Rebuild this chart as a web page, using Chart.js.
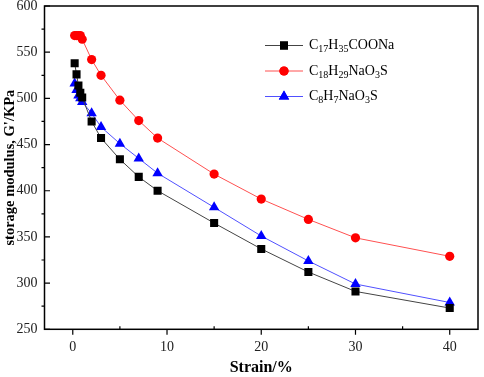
<!DOCTYPE html>
<html>
<head>
<meta charset="utf-8">
<script src="https://cdn.jsdelivr.net/npm/chart.js@4/dist/chart.umd.min.js"></script>
<style>
html,body{margin:0;padding:0;background:#fff;}
canvas{display:block;}
</style>
</head>
<body>
<canvas id="c" width="484" height="377"></canvas>
<script>
const strain = [0.2, 0.4, 0.6, 0.8, 1, 2, 3, 5, 7, 9, 15, 20, 25, 30, 40];
const stearate = [538, 526, 514, 506, 501, 475, 457, 434, 415, 400, 365, 337, 312, 291, 273];
const dodecylBenzene = [568, 568, 568, 568, 564, 542, 525, 498, 476, 457, 418, 391, 369, 349, 329];
const styreneSulfonate = [516, 509, 503, 500, 496, 484, 469, 451, 435, 419, 382, 351, 324, 299, 279];
const seriesNames = ['C17H35COONa', 'C18H29NaO3S', 'C8H7NaO3S'];
const xTicks = [0, 10, 20, 30, 40];
const xMinorTicks = [5, 15, 25, 35];
const yTicks = [250, 300, 350, 400, 450, 500, 550, 600];
const yMinorTicks = [275, 325, 375, 425, 475, 525, 575];

const SERIF = '"Liberation Serif", "DejaVu Serif", serif';

function pts(ys){ return strain.map((x,i)=>({x:x, y:ys[i]})); }

const styles = [
  {line:'#444444', fill:'#000000', shape:'rect', r:5.7},
  {line:'#ff5050', fill:'#ff0000', shape:'circle', r:4.6},
  {line:'#5050ff', fill:'#0000ff', shape:'triangle', r:6}
];
const values = [stearate, dodecylBenzene, styreneSulfonate];

const datasets = values.map((v,i)=>({
  label: seriesNames[i],
  data: pts(v),
  borderColor: styles[i].line,
  borderWidth: 1,
  backgroundColor: styles[i].fill,
  pointBackgroundColor: styles[i].fill,
  pointBorderColor: styles[i].fill,
  pointBorderWidth: 0,
  pointStyle: styles[i].shape,
  pointRadius: styles[i].r,
  pointHoverRadius: styles[i].r,
  tension: 0
}));

function drawFormula(ctx, text, x, y, size){
  let cx = x;
  const big = size + 'px ' + SERIF;
  const small = Math.round(size*0.72) + 'px ' + SERIF;
  ctx.textBaseline = 'middle';
  ctx.textAlign = 'left';
  for (const ch of text){
    if (/[0-9]/.test(ch)){
      ctx.font = small;
      ctx.fillText(ch, cx, y + size*0.3);
    } else {
      ctx.font = big;
      ctx.fillText(ch, cx, y);
    }
    cx += ctx.measureText(ch).width;
  }
}

const decor = {
  id: 'decor',
  afterDraw(chart){
    const ctx = chart.ctx;
    const a = chart.chartArea;
    const xs = chart.scales.x, ys = chart.scales.y;
    ctx.save();
    ctx.strokeStyle = '#000';
    ctx.lineWidth = 1.5;
    ctx.strokeRect(a.left, a.top, a.right - a.left, a.bottom - a.top);
    ctx.lineWidth = 1.2;
    ctx.beginPath();
    xTicks.forEach(v=>{ const p = xs.getPixelForValue(v); ctx.moveTo(p, a.bottom); ctx.lineTo(p, a.bottom + 5.5); });
    xMinorTicks.forEach(v=>{ const p = xs.getPixelForValue(v); ctx.moveTo(p, a.bottom); ctx.lineTo(p, a.bottom - 3); });
    yTicks.forEach(v=>{ const p = ys.getPixelForValue(v); ctx.moveTo(a.left, p); ctx.lineTo(a.left + 5.5, p); });
    yMinorTicks.forEach(v=>{ const p = ys.getPixelForValue(v); ctx.moveTo(a.left, p); ctx.lineTo(a.left - 3, p); });
    ctx.stroke();

    const rows = [45.5, 71, 96.5];
    chart.data.datasets.forEach((ds,i)=>{
      const y = rows[i];
      ctx.strokeStyle = ds.borderColor;
      ctx.lineWidth = 1;
      ctx.beginPath(); ctx.moveTo(265, y); ctx.lineTo(303, y); ctx.stroke();
      ctx.fillStyle = ds.pointBackgroundColor;
      Chart.helpers.drawPoint(ctx, {pointStyle: ds.pointStyle, radius: ds.pointRadius, borderWidth: 0}, 284, y);
      ctx.fill();
      ctx.fillStyle = '#000';
      drawFormula(ctx, ds.label, 309, y, 14);
    });
    ctx.restore();
  }
};

new Chart(document.getElementById('c'), {
  type: 'line',
  data: { datasets },
  plugins: [decor],
  options: {
    responsive: false,
    animation: false,
    events: [],
    layout: { padding: { top: 5.5, right: 3, bottom: 0, left: 0 } },
    plugins: { legend: { display: false }, tooltip: { enabled: false } },
    scales: {
      x: {
        type: 'linear',
        min: -3, max: 43,
        afterBuildTicks: s => { s.ticks = xTicks.map(v=>({value:v})); },
        afterFit: s => { s.height = 47.7; s.paddingLeft = 0; s.paddingRight = 0; },
        grid: { display: false, drawTicks: false },
        border: { display: false },
        ticks: { color: '#222', padding: 10, font: { family: SERIF, size: 14 }, maxRotation: 0 },
        title: { display: true, text: 'Strain/%', color: '#000', padding: { top: 0, bottom: 1 }, font: { family: SERIF, size: 16, weight: 'bold', lineHeight: 1 } }
      },
      y: {
        type: 'linear',
        min: 250, max: 600,
        afterBuildTicks: s => { s.ticks = yTicks.map(v=>({value:v})); },
        afterFit: s => { s.width = 44.5; s.paddingTop = 0; s.paddingBottom = 0; },
        grid: { display: false, drawTicks: false },
        border: { display: false },
        ticks: { color: '#222', padding: 7, font: { family: SERIF, size: 14 } },
        title: { display: true, text: "storage modulus, G'/KPa", color: '#000', padding: { top: 1.5, bottom: 0 }, font: { family: SERIF, size: 14.5, weight: 'bold', lineHeight: 1.2 } }
      }
    }
  }
});
</script>
</body>
</html>
